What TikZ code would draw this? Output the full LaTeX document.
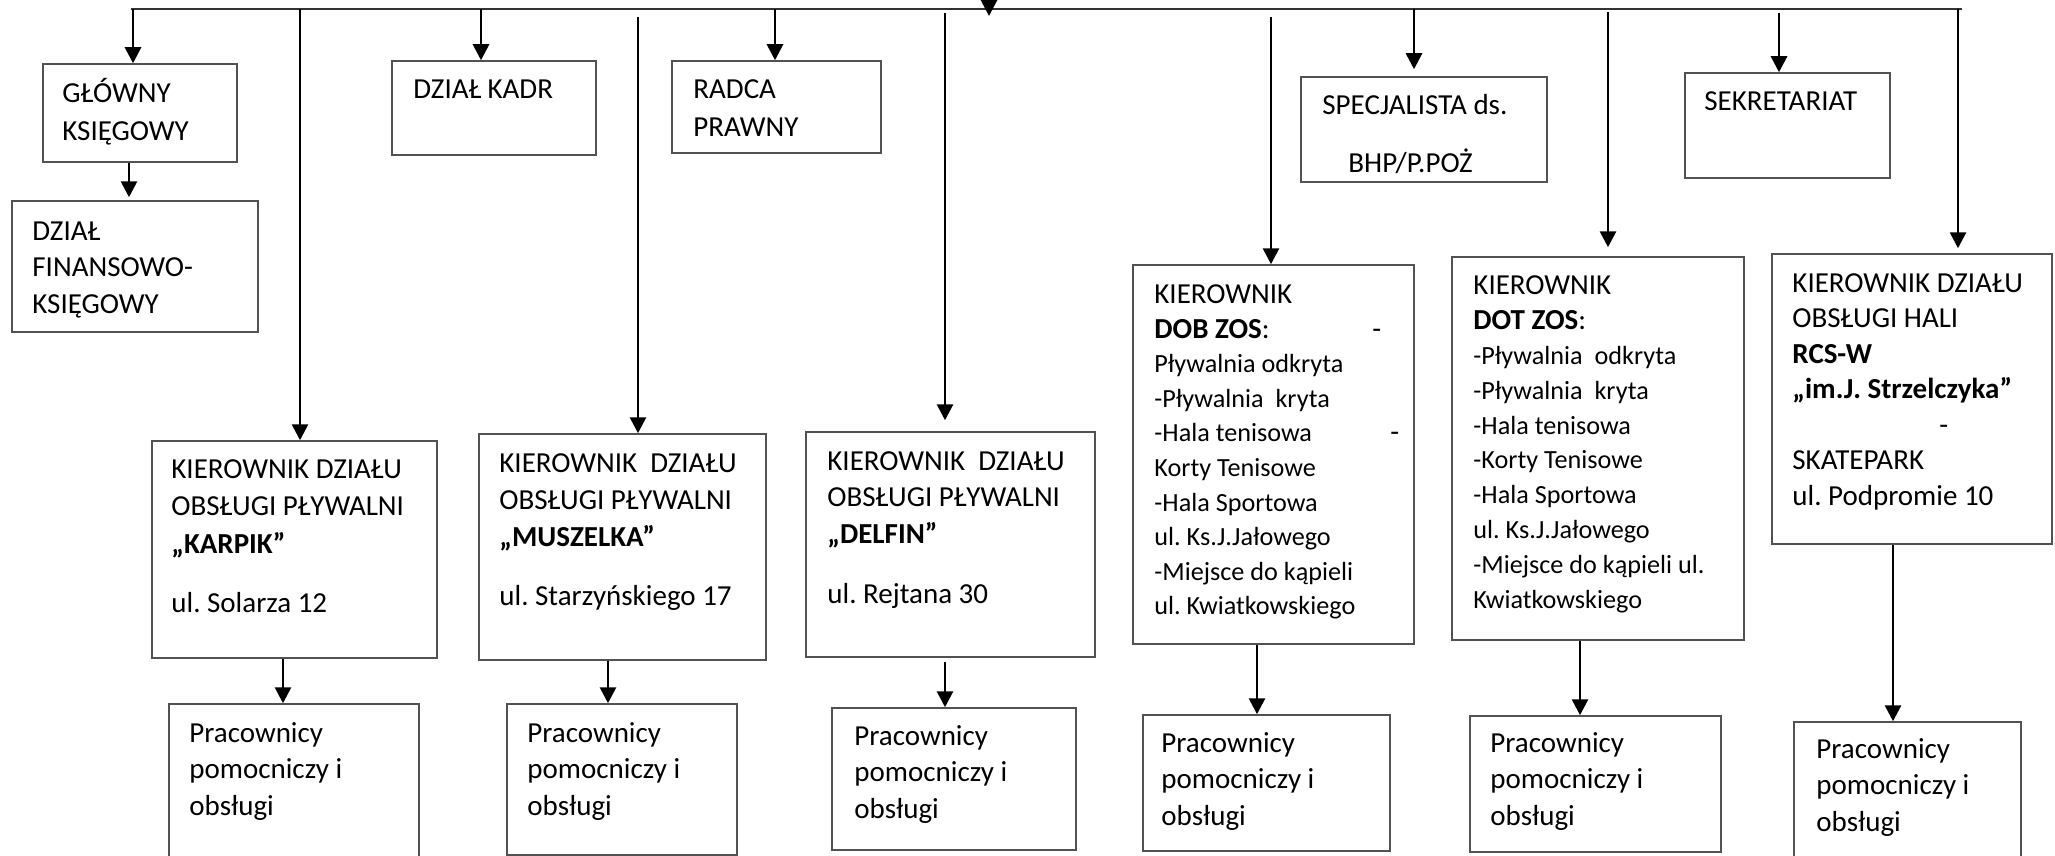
\documentclass[tikz,border=0pt]{standalone}
\usepackage{fontspec}
\setmainfont{Carlito}
\usetikzlibrary{arrows.meta,fit}
\frenchspacing
\newcommand\myfs[1]{\fontsize{14.5pt}{#1}\selectfont}
\newcommand\fl{\rule{0pt}{14pt}}
\newcommand\sm[1]{{\fontsize{13.1pt}{17.3pt}\selectfont #1}}
\begin{document}
\begin{tikzpicture}[x=0.5pt,y=-0.5pt,
  box/.style={draw=black!68, line width=0.75pt, inner sep=0pt},
  txt/.style={anchor=north west, inner sep=0pt, align=left},
  arr/.style={draw=black, line width=1.4pt, -{Triangle[length=8pt,width=8pt]}},
  conn/.style={draw=black!80, line width=0.8pt}]
\useasboundingbox (0,0) rectangle (2055,856);
% ---------- boxes ----------
\node[box, fit={(43,64)(237,162)}] (gk) {};
\node[box, fit={(12,201)(258,332)}] (dfk) {};
\node[box, fit={(392,61)(596,155)}] (kadr) {};
\node[box, fit={(672,61)(881,153)}] (radca) {};
\node[box, fit={(1301,77)(1547,182)}] (bhp) {};
\node[box, fit={(1685,73)(1890,178)}] (sek) {};
\node[box, fit={(152,441)(437,658)}] (karpik) {};
\node[box, fit={(479,434)(766,660)}] (musz) {};
\node[box, fit={(806,432)(1095,657)}] (delfin) {};
\node[box, fit={(1133,265)(1414,644)}] (dob) {};
\node[box, fit={(1452,257)(1744,640)}] (dot) {};
\node[box, fit={(1772,254)(2052,544)}] (rcs) {};
\node[box, fit={(169,704)(419,870)}] (pk) {};
\node[box, fit={(507,704)(737,855)}] (pm) {};
\node[box, fit={(832,708)(1076,850)}] (pd) {};
\node[box, fit={(1143,715)(1390,851)}] (pdob) {};
\node[box, fit={(1470,716)(1721,852)}] (pdot) {};
\node[box, fit={(1794,722)(2021,870)}] (prcs) {};
% ---------- texts ----------
\node[txt, font=\myfs{19pt}] (tgk) at (62,74) {\fl GŁÓWNY\\KSIĘGOWY};
\node[txt, font=\myfs{18.25pt}] (tdfk) at (32,212) {\fl DZIAŁ\\FINANSOWO-\\KSIĘGOWY};
\node[txt, font=\myfs{19pt}] (tkadr) at (413,70) {\fl DZIAŁ KADR};
\node[txt, font=\myfs{19pt}] (tradca) at (693,70) {\fl RADCA\\PRAWNY};
\node[txt, font=\myfs{29pt}] (tbhp) at (1322,86) {\fl SPECJALISTA ds.\\\hspace*{13pt}BHP/P.POŻ};
\node[txt, font=\myfs{19pt}] (tsek) at (1704,82) {\fl SEKRETARIAT};
\node[txt, font=\myfs{17.3pt}] (tdob) at (1154,275) {\fl KIEROWNIK\\
  \makebox[109pt][l]{\textbf{DOB ZOS}:}-\\
  \sm{Pływalnia odkryta}\\
  \sm{-Pływalnia~ kryta}\\
  \makebox[118pt][l]{\sm{-Hala tenisowa}}-\\
  \sm{Korty Tenisowe}\\
  \sm{-Hala Sportowa}\\
  \sm{ul. Ks.J.Jałowego}\\
  \sm{-Miejsce do kąpieli}\\
  \sm{ul. Kwiatkowskiego}};
\node[txt, font=\myfs{17.45pt}] (tdot) at (1473,266) {\fl KIEROWNIK\\
  \textbf{DOT ZOS}:\\
  \sm{-Pływalnia~ odkryta}\\
  \sm{-Pływalnia~ kryta}\\
  \sm{-Hala tenisowa}\\
  \sm{-Korty Tenisowe}\\
  \sm{-Hala Sportowa}\\
  \sm{ul. Ks.J.Jałowego}\\
  \sm{-Miejsce do kąpieli ul.}\\
  \sm{Kwiatkowskiego}};
\node[txt, font=\myfs{17.75pt}] (trcs) at (1792,264) {\fl KIEROWNIK DZIAŁU\\
  OBSŁUGI HALI\\
  \textbf{RCS-W}\\
  \textbf{„im.J. Strzelczyka”}\\
  \hspace*{73.5pt}-\\
  SKATEPARK\\
  ul. Podpromie 10};
\node[txt, font=\myfs{18.75pt}] (tkarpik) at (171,450) {\fl KIEROWNIK DZIAŁU\\
  OBSŁUGI PŁYWALNI\\
  \textbf{„KARPIK”}\\[10.75pt]
  ul. Solarza 12};
\node[txt, font=\myfs{18.5pt}] (tmusz) at (499,444) {\fl KIEROWNIK~ DZIAŁU\\
  OBSŁUGI PŁYWALNI\\
  \textbf{„MUSZELKA”}\\[11pt]
  ul. Starzyńskiego 17};
\node[txt, font=\myfs{18.25pt}] (tdelfin) at (827,442) {\fl KIEROWNIK~ DZIAŁU\\
  OBSŁUGI PŁYWALNI\\
  \textbf{„DELFIN”}\\[11.75pt]
  ul. Rejtana 30};
\node[txt, font=\myfs{18.25pt}] (tpk) at (189,714) {\fl Pracownicy\\pomocniczy i\\obsługi};
\node[txt, font=\myfs{18.25pt}] (tpm) at (527,714) {\fl Pracownicy\\pomocniczy i\\obsługi};
\node[txt, font=\myfs{18.25pt}] (tpd) at (854,717) {\fl Pracownicy\\pomocniczy i\\obsługi};
\node[txt, font=\myfs{18.25pt}] (tpdob) at (1161,724) {\fl Pracownicy\\pomocniczy i\\obsługi};
\node[txt, font=\myfs{18.25pt}] (tpdot) at (1490,724) {\fl Pracownicy\\pomocniczy i\\obsługi};
\node[txt, font=\myfs{18.25pt}] (tprcs) at (1816,730) {\fl Pracownicy\\pomocniczy i\\obsługi};
% ---------- top bus ----------
\coordinate (busL) at (131,9);
\coordinate (busR) at (1962,9);
\draw[conn] (busL) -- (busR);
\coordinate (top) at (989,-30);
\coordinate (topend) at (989,16);
\draw[arr] (top) -- (topend);
\coordinate (c1) at (133,9);
\coordinate (c2) at (300,9);
\coordinate (c3) at (481,9);
\coordinate (c4) at (638,17);
\coordinate (c5) at (775,9);
\coordinate (c6) at (945,13);
\coordinate (c7) at (1271,17);
\coordinate (c8) at (1414,9);
\coordinate (c9) at (1608,12);
\coordinate (c10) at (1779,13);
\coordinate (c11) at (1958,9);
\draw[arr] (c1) -- (c1 |- gk.north);
\draw[arr] (c2) -- (c2 |- karpik.north);
\draw[arr] (c3) -- (c3 |- kadr.north);
\draw[arr] (c4) -- (c4 |- musz.north);
\draw[arr] (c5) -- (c5 |- radca.north);
\draw[arr, shorten >=5.5pt] (c6) -- (c6 |- delfin.north);
\draw[arr] (c7) -- (c7 |- dob.north);
\draw[arr, shorten >=3.5pt] (c8) -- (c8 |- bhp.north);
\draw[arr, shorten >=4.5pt] (c9) -- (c9 |- dot.north);
\draw[arr] (c10) -- (c10 |- sek.north);
\draw[arr, shorten >=2.5pt] (c11) -- (c11 |- rcs.north);
% ---------- lower arrows ----------
\coordinate (a0) at (129,0);
\coordinate (a1) at (283,0);
\coordinate (a2) at (608,0);
\coordinate (a3) at (945,0);
\coordinate (a4) at (1257,0);
\coordinate (a5) at (1580,0);
\coordinate (a6) at (1893,0);
\draw[arr, shorten >=1.5pt] (a0 |- gk.south) -- (a0 |- dfk.north);
\draw[arr] (a1 |- karpik.south) -- (a1 |- pk.north);
\draw[arr] (a2 |- musz.south) -- (a2 |- pm.north);
\draw[arr, shorten <=2pt] (a3 |- delfin.south) -- (a3 |- pd.north);
\draw[arr] (a4 |- dob.south) -- (a4 |- pdob.north);
\draw[arr] (a5 |- dot.south) -- (a5 |- pdot.north);
\draw[arr] (a6 |- rcs.south) -- (a6 |- prcs.north);
\end{tikzpicture}
\end{document}
